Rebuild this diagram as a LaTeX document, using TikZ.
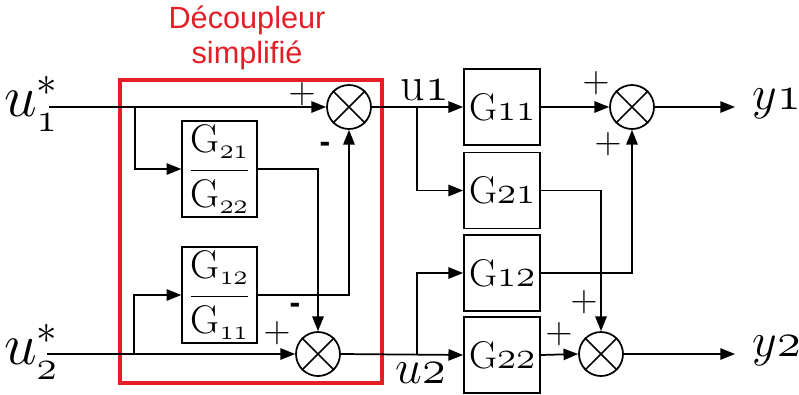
\RequirePackage{fix-cm}
\documentclass[tikz,border=0pt]{standalone}
\usepackage{fontspec}
\newfontfamily\titlefont{Liberation Sans}
\usetikzlibrary{arrows.meta}
\definecolor{decred}{RGB}{228,30,38}
\begin{document}
\begin{tikzpicture}[x=0.75pt,y=-0.75pt,
  line width=1.3pt,
  >={Triangle[length=11pt,width=8.5pt]},
  sum/.style={draw,circle,minimum size=33pt,inner sep=0pt},
  gbox/.style={draw,minimum width=57pt,minimum height=57pt,inner sep=0pt,font=\fontsize{29}{31}\selectfont},
  fbox/.style={draw,minimum width=56pt,minimum height=72pt,inner sep=0pt,font=\fontsize{30}{32}\selectfont},
  sign/.style={inner sep=0pt,font=\fontsize{28}{30}\selectfont},
  minus/.style={inner sep=0pt,font=\titlefont\bfseries\fontsize{24}{26}\selectfont},
  biglab/.style={inner sep=0pt,font=\fontsize{44}{46}\selectfont},
  midlab/.style={inner sep=0pt,font=\fontsize{36}{38}\selectfont},
  redbox/.style={draw=decred,line width=2.4pt}
]
\useasboundingbox (0,0) rectangle (799,394);

% title and red frame
\node[text=decred,align=center,font=\titlefont\fontsize{23}{26}\selectfont] (title) at (247,38) {Découpleur\\simplifié};
\draw[redbox] (120,80) rectangle (382,383);

% decoupler blocks
\node[fbox] (d1) at (219.5,169) {$\displaystyle\frac{\mathrm{G}_{\mathnormal{21}}}{\mathrm{G}_{\mathnormal{22}}}$};
\node[fbox] (d2) at (219.5,295) {$\displaystyle\frac{\mathrm{G}_{\mathnormal{12}}}{\mathrm{G}_{\mathnormal{11}}}$};

% sums
\node[sum] (s1) at (349,107) {};
\node[sum] (s2) at (318,354) {};
\node[sum] (t1) at (632,107) {};
\node[sum] (t2) at (601,354) {};
\foreach \s in {s1,s2,t1,t2}{
  \draw (\s.45) -- (\s.225) (\s.135) -- (\s.315);
}

% plant blocks
\node[gbox] (g11) at (502,107) {G$\mathnormal{11}$};
\node[gbox] (g21) at (502,190.5) {G$\mathnormal{21}$};
\node[gbox] (g12) at (502,273) {G$\mathnormal{12}$};
\node[gbox] (g22) at (502,355) {G$\mathnormal{22}$};

% inputs
\node[biglab] (u1s) at (31,104) {$u_{\mathnormal{1}}^{*}$};
\node[biglab] (u2s) at (31,352) {$u_{\mathnormal{2}}^{*}$};
\coordinate (in1) at (49,107);
\coordinate (in2) at (47,354);
\coordinate (b1) at (135,107);
\coordinate (b2) at (134,354);

\draw[->] (in1) -- (s1.west);
\draw[->] (b1) |- (d1.west);
\draw[->] (d1.east) -| (s2.north);
\draw[->] (in2) -- (s2.west);
\draw[->] (b2) |- (d2.west);
\draw[->] (d2.east) -| (s1.south);

% signs in decoupler
\node[sign] (p1) at (302,94) {$+$};
\node[minus] (m1) at (325,147) {-};
\node[minus] (m2) at (295,308) {-};
\node[sign] (p2) at (277,333) {$+$};

% plant connections
\node[midlab] (u1) at (425,90) {$\mathrm{u}\mathnormal{1}$};
\node[midlab] (u2) at (421,373) {$u\mathnormal{2}$};
\coordinate (c1) at (417,107);
\coordinate (c2) at (417,354);
\draw[->] (s1.east) -- (g11.west);
\draw[->] (c1) |- (g21.west);
\draw[->] (s2.east) -- (g22.west);
\draw[->] (c2) |- (g12.west);

\draw[->] (g11.east) -- (t1.west);
\draw[->] (g12.east) -| (t1.south);
\draw[->] (g21.east) -| (t2.north);
\draw[->] (g22.east) -- (t2.west);

\node[sign] (p3) at (596,83) {$+$};
\node[sign] (p4) at (608,144) {$+$};
\node[sign] (p5) at (584,302) {$+$};
\node[sign] (p6) at (559,334) {$+$};

% outputs
\coordinate (o1) at (735,107);
\coordinate (o2) at (735,354);
\draw[->] (t1.east) -- (o1);
\draw[->] (t2.east) -- (o2);
\node[midlab,anchor=west] (y1) at (752,104) {$y\mathnormal{1}$};
\node[midlab,anchor=west] (y2) at (752,351) {$y\mathnormal{2}$};
\end{tikzpicture}
\end{document}
